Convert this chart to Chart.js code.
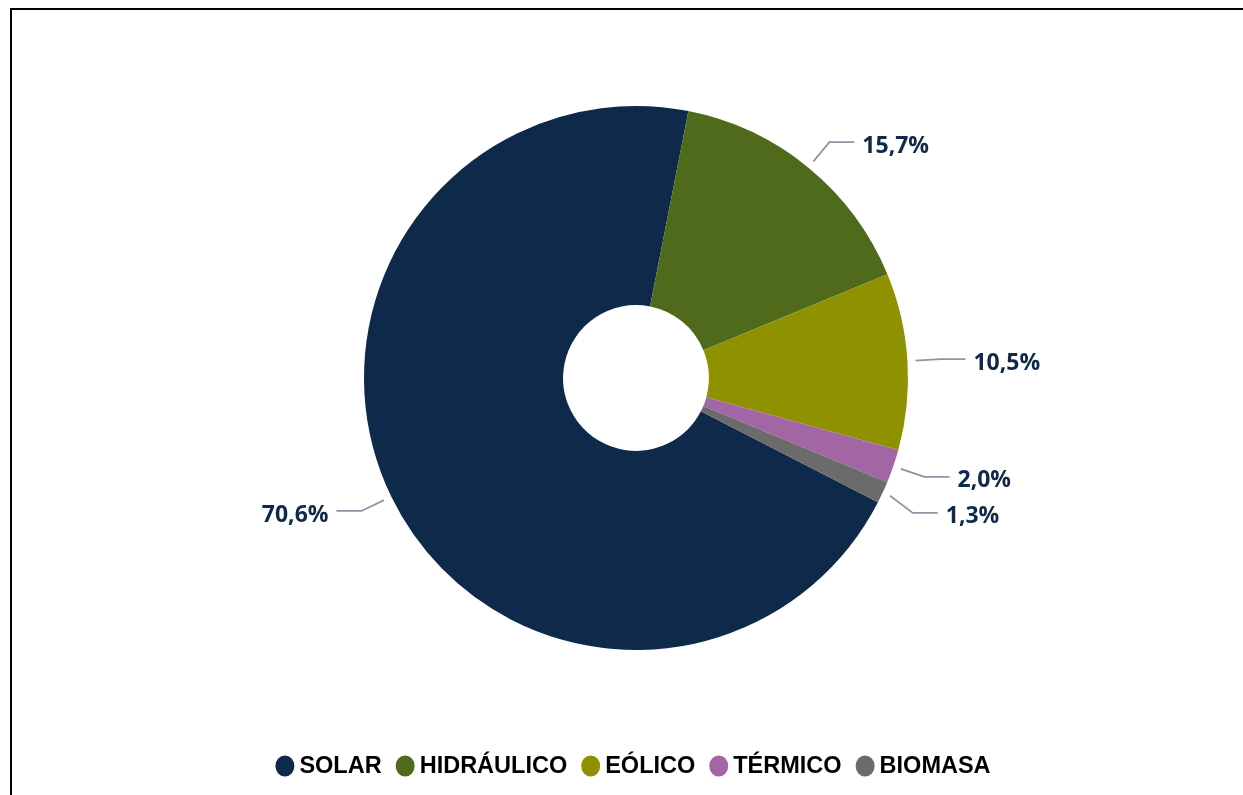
<!DOCTYPE html>
<html>
<head>
<meta charset="utf-8">
<script src="https://cdn.jsdelivr.net/npm/chart.js@4.4.0/dist/chart.umd.min.js"></script>
<style>
  html, body { margin: 0; padding: 0; background: #ffffff; }
  #wrap { position: relative; width: 1243px; height: 795px; overflow: hidden; }
  #frame { position: absolute; left: 10px; top: 8px; width: 1300px; height: 900px;
           border-top: 2px solid #000; border-left: 2px solid #000; box-sizing: border-box; }
  canvas { position: absolute; left: 0; top: 0; }
</style>
</head>
<body>
<div id="wrap">
  <div id="frame"></div>
  <canvas id="c" width="1243" height="795"></canvas>
</div>
<script>
const categories = ['SOLAR', 'HIDRÁULICO', 'EÓLICO', 'TÉRMICO', 'BIOMASA'];
const shares = [70.6, 15.7, 10.5, 2.0, 1.3];
const colors = ['#0F294A', '#4F6A1A', '#8F9200', '#A266A5', '#6B6B6B'];

const labelPlugin = {
  id: 'leaderLabels',
  afterDatasetsDraw(chart) {
    const ctx = chart.ctx;
    const meta = chart.getDatasetMeta(0);
    ctx.save();
    const lastY = { '1': -Infinity, '-1': -Infinity };
    meta.data.forEach((arc, i) => {
      const p = arc.getProps(['x', 'y', 'startAngle', 'endAngle', 'outerRadius'], true);
      const mid = (p.startAngle + p.endAngle) / 2;
      const c = Math.cos(mid), s = Math.sin(mid);
      const r0 = p.outerRadius + 8, r1 = p.outerRadius + 33;
      const x0 = p.x + c * r0, y0 = p.y + s * r0;
      const dir = c >= 0 ? 1 : -1;
      const x1 = p.x + c * r1;
      let y1 = p.y + s * r1;
      if (y1 - lastY[dir] < 36) y1 = lastY[dir] + 36;
      lastY[dir] = y1;
      const x2 = x1 + dir * 25;
      ctx.strokeStyle = '#8A95A5';
      ctx.lineWidth = 1.8;
      ctx.beginPath();
      ctx.moveTo(x0, y0);
      ctx.lineTo(x1, y1);
      ctx.lineTo(x2, y1);
      ctx.stroke();
      ctx.fillStyle = '#0F294A';
      ctx.font = 'bold 23px "Open Sans"';
      ctx.textBaseline = 'middle';
      ctx.textAlign = dir > 0 ? 'left' : 'right';
      const txt = shares[i].toFixed(1).replace('.', ',') + '%';
      ctx.fillText(txt, x2 + dir * 8, y1 + 4);
    });
    ctx.restore();
  }
};

const legendPlugin = {
  id: 'bottomLegend',
  afterDraw(chart) {
    const ctx = chart.ctx;
    ctx.save();
    ctx.font = 'bold 23.5px "Liberation Sans"';
    const dot = 19, gapIn = 5, gapOut = 14;
    const widths = categories.map(t => ctx.measureText(t).width);
    const total = widths.reduce((a, w) => a + dot + gapIn + w, 0) + gapOut * (categories.length - 1);
    let x = 633 - total / 2;
    const y = 766;
    categories.forEach((t, i) => {
      ctx.fillStyle = colors[i];
      ctx.beginPath();
      ctx.ellipse(x + dot / 2, y, dot / 2, 10.5, 0, 0, Math.PI * 2);
      ctx.fill();
      ctx.fillStyle = '#000000';
      ctx.textAlign = 'left';
      ctx.textBaseline = 'middle';
      ctx.fillText(t, x + dot + gapIn, y + 1);
      x += dot + gapIn + widths[i] + gapOut;
    });
    ctx.restore();
  }
};

new Chart(document.getElementById('c'), {
  type: 'doughnut',
  data: {
    labels: categories,
    datasets: [{
      data: shares,
      backgroundColor: colors,
      borderWidth: 0,
      radius: 272,
      cutout: '26.8%',
      hoverOffset: 0
    }]
  },
  options: {
    responsive: false,
    animation: false,
    rotation: 117.2,
    layout: { padding: { left: 29, right: 0, top: 12, bottom: 51 } },
    plugins: {
      tooltip: { enabled: false },
      legend: { display: false }
    }
  },
  plugins: [labelPlugin, legendPlugin]
});
</script>
</body>
</html>
